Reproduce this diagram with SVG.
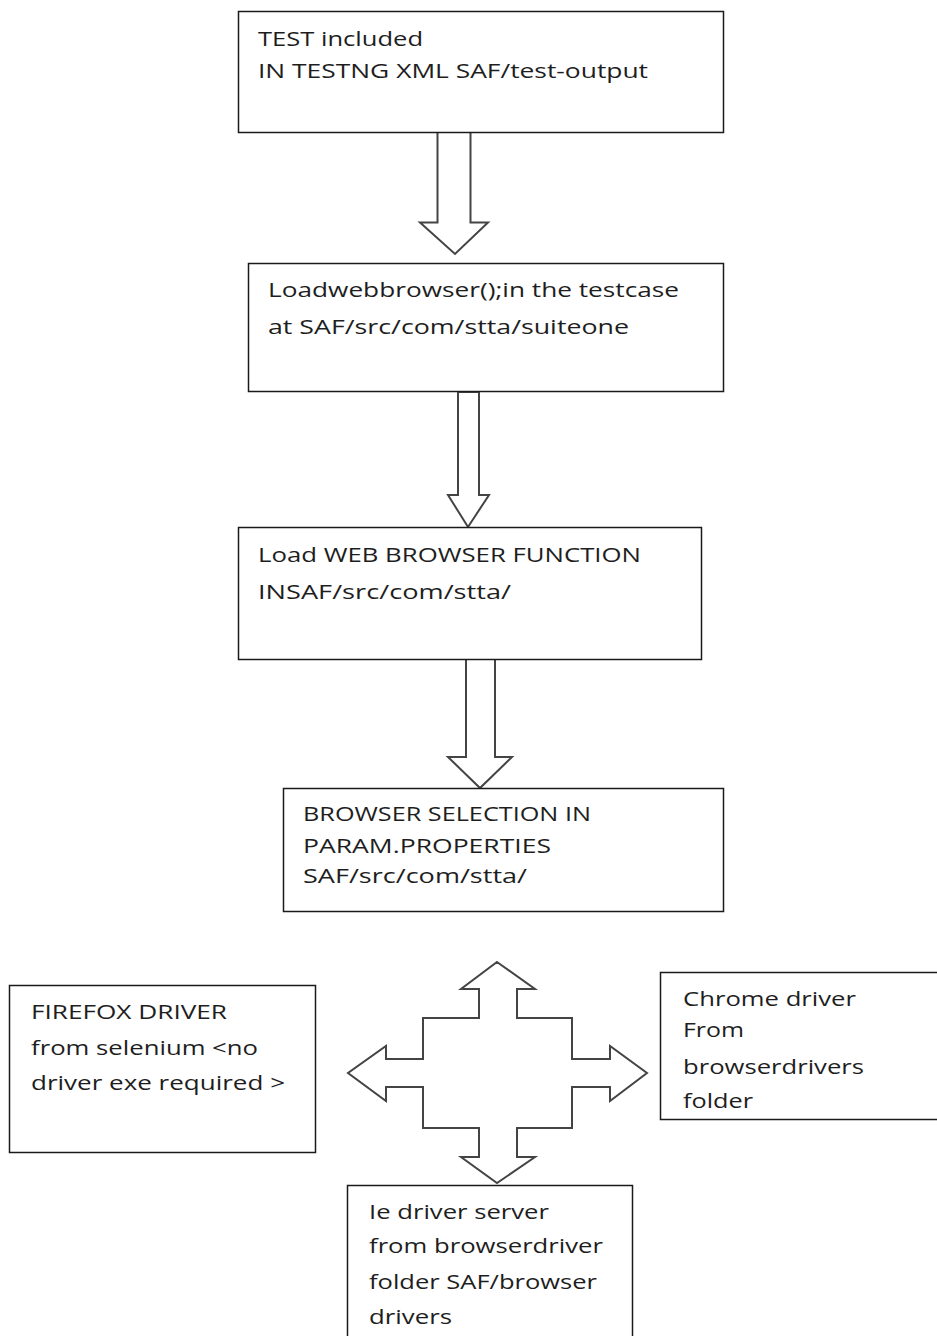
<svg xmlns="http://www.w3.org/2000/svg" width="937" height="1336" viewBox="0 0 937 1336">
<style>
.box{fill:#fff;stroke:#1a1a1a;stroke-width:1.5}
.arr{fill:#fff;stroke:#444;stroke-width:2;stroke-linejoin:miter}
text{font-family:"Open Sans","Liberation Sans",sans-serif;font-size:20px;fill:#1e1e1e}
</style>
<rect width="937" height="1336" fill="#fff"/>
<g id="connectors">
<path class="arr" d="M437.5,131 H470.5 V222.5 H488 L455,254 L420,222.5 H437.5 Z"/>
<path class="arr" d="M458,392 H479 V495 H489 L468,527 L448,495 H458 Z"/>
<path class="arr" d="M466,659 H495 V757 H512 L480,788 L448,757 H466 Z"/>
<path class="arr" d="M497,962 L535,989 H517 V1018 H572 V1059 H610 V1046 L647,1073 L610,1101 V1087 H572 V1128 H517 V1157 H535 L497,1183 L461,1157 H479 V1128 H423 V1087 H386 V1101 L348,1073 L386,1046 V1059 H423 V1018 H479 V989 H461 Z"/>
</g>
<g id="node-test">
<rect class="box" x="238.5" y="11.5" width="485" height="121"/>
<text x="258" y="46" textLength="165" lengthAdjust="spacingAndGlyphs">TEST included</text>
<text x="258" y="78" textLength="390" lengthAdjust="spacingAndGlyphs">IN TESTNG XML SAF/test-output</text>
</g>
<g id="node-load">
<rect class="box" x="248.5" y="263.5" width="475" height="128"/>
<text x="268" y="297" textLength="411" lengthAdjust="spacingAndGlyphs">Loadwebbrowser();in the testcase</text>
<text x="268" y="334" textLength="361" lengthAdjust="spacingAndGlyphs">at SAF/src/com/stta/suiteone</text>
</g>
<g id="node-function">
<rect class="box" x="238.5" y="527.5" width="463" height="132"/>
<text x="258" y="562" textLength="383" lengthAdjust="spacingAndGlyphs">Load WEB BROWSER FUNCTION</text>
<text x="258" y="599" textLength="253" lengthAdjust="spacingAndGlyphs">INSAF/src/com/stta/</text>
</g>
<g id="node-selection">
<rect class="box" x="283.5" y="788.5" width="440" height="123"/>
<text x="303" y="821" textLength="288" lengthAdjust="spacingAndGlyphs">BROWSER SELECTION IN</text>
<text x="303" y="853" textLength="248" lengthAdjust="spacingAndGlyphs">PARAM.PROPERTIES</text>
<text x="303" y="883" textLength="224" lengthAdjust="spacingAndGlyphs">SAF/src/com/stta/</text>
</g>
<g id="node-firefox">
<rect class="box" x="9.5" y="985.5" width="306" height="167"/>
<text x="31" y="1019" textLength="196" lengthAdjust="spacingAndGlyphs">FIREFOX DRIVER</text>
<text x="31" y="1055" textLength="227" lengthAdjust="spacingAndGlyphs">from selenium &lt;no</text>
<text x="31" y="1090" textLength="254" lengthAdjust="spacingAndGlyphs">driver exe required &gt;</text>
</g>
<g id="node-chrome">
<rect class="box" x="660.5" y="972.5" width="290" height="147"/>
<text x="683" y="1006" textLength="173" lengthAdjust="spacingAndGlyphs">Chrome driver</text>
<text x="683" y="1037" textLength="61" lengthAdjust="spacingAndGlyphs">From</text>
<text x="683" y="1074" textLength="181" lengthAdjust="spacingAndGlyphs">browserdrivers</text>
<text x="683" y="1108" textLength="70" lengthAdjust="spacingAndGlyphs">folder</text>
</g>
<g id="node-ie">
<rect class="box" x="347.5" y="1185.5" width="285" height="170"/>
<text x="369" y="1219" textLength="180" lengthAdjust="spacingAndGlyphs">Ie driver server</text>
<text x="369" y="1253" textLength="234" lengthAdjust="spacingAndGlyphs">from browserdriver</text>
<text x="369" y="1289" textLength="228" lengthAdjust="spacingAndGlyphs">folder SAF/browser</text>
<text x="369" y="1324" textLength="83" lengthAdjust="spacingAndGlyphs">drivers</text>
</g>
</svg>
